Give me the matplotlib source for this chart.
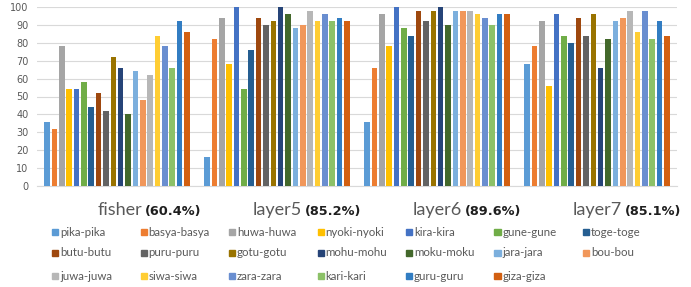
import matplotlib
matplotlib.use("Agg")
import matplotlib.pyplot as plt
from matplotlib.patches import Rectangle
import numpy as np

# categories and series
groups = ["fisher", "layer5", "layer6", "layer7"]
accuracy = ["(60.4%)", "(85.2%)", "(89.6%)", "(85.1%)"]

names = ["pika-pika", "basya-basya", "huwa-huwa", "nyoki-nyoki", "kira-kira",
         "gune-gune", "toge-toge", "butu-butu", "puru-puru", "gotu-gotu",
         "mohu-mohu", "moku-moku", "jara-jara", "bou-bou", "juwa-juwa",
         "siwa-siwa", "zara-zara", "kari-kari", "guru-guru", "giza-giza"]

fisher = [36, 32, 78, 54, 54, 58, 44, 52, 42, 72, 66, 40, 64, 48, 62, 84, 78, 66, 92, 86]
layer5 = [16, 82, 94, 68, 100, 54, 76, 94, 90, 92, 100, 96, 88, 90, 98, 92, 96, 92, 94, 92]
layer6 = [36, 66, 96, 78, 100, 88, 84, 98, 92, 98, 100, 90, 98, 98, 98, 96, 94, 90, 96, 96]
layer7 = [68, 78, 92, 56, 96, 84, 80, 94, 84, 96, 66, 82, 92, 94, 98, 86, 98, 82, 92, 84]

colors = ["#5B9BD5", "#ED7D31", "#A5A5A5", "#FFC000", "#4472C4", "#70AD47",
          "#255E91", "#9E480E", "#636363", "#997300", "#264478", "#43682B",
          "#7CAFDD", "#F1975A", "#B7B7B7", "#FFCD33", "#698ED0", "#8CC168",
          "#327DC2", "#D26012"]

values = np.array([fisher, layer5, layer6, layer7])  # groups x series

W, H = 691, 287
fig = plt.figure(figsize=(W / 100, H / 100), dpi=100)
ax = fig.add_axes([37 / W, 1 - 186 / H, 640 / W, 179 / H])

n = len(names)
slot = 0.919 / n
x = np.arange(len(groups))
for i, name in enumerate(names):
    offs = (i - (n - 1) / 2) * slot
    ax.bar(x + offs, values[:, i], width=slot * 0.76, color=colors[i], zorder=3)

ax.set_xlim(-0.5, len(groups) - 0.5)
ax.set_ylim(0, 100)
ax.set_yticks(range(0, 101, 10))
ax.tick_params(axis="y", length=0, labelsize=7, labelcolor="#595959", pad=6)
ax.set_xticks([])
ax.grid(axis="y", color="#D9D9D9", linewidth=0.8, zorder=0)
for s in ["top", "right", "left"]:
    ax.spines[s].set_visible(False)
ax.spines["bottom"].set_color("#D9D9D9")
ax.spines["bottom"].set_linewidth(0.8)

# group labels: name in plain gray font, accuracy in bold
for gi, (g, acc) in enumerate(zip(groups, accuracy)):
    xs = 37 + 160 * gi + 80 + 25
    fig.text(xs / W, 1 - 210 / H, g, ha="right", va="center", fontsize=13,
             color="#595959", family="Lato")
    fig.text((xs + 3) / W, 1 - 211 / H, acc, ha="left", va="center", fontsize=9.3,
             color="#1F1F1F", family="DejaVu Sans", fontweight="bold")

# legend, row-major 7 columns
col_x = 52
col_w = 88.5
row_y = [232, 253, 276]
for i, name in enumerate(names):
    r, c = divmod(i, 7)
    px = col_x + c * col_w
    py = row_y[r]
    fig.patches.append(Rectangle((px / W, 1 - (py + 3) / H), 6 / W, 6 / H,
                                 transform=fig.transFigure, color=colors[i]))
    fig.text((px + 8) / W, 1 - py / H, name, ha="left", va="center",
             fontsize=8.3, color="#595959", family="Lato")

fig.savefig("out.png", dpi=100)
